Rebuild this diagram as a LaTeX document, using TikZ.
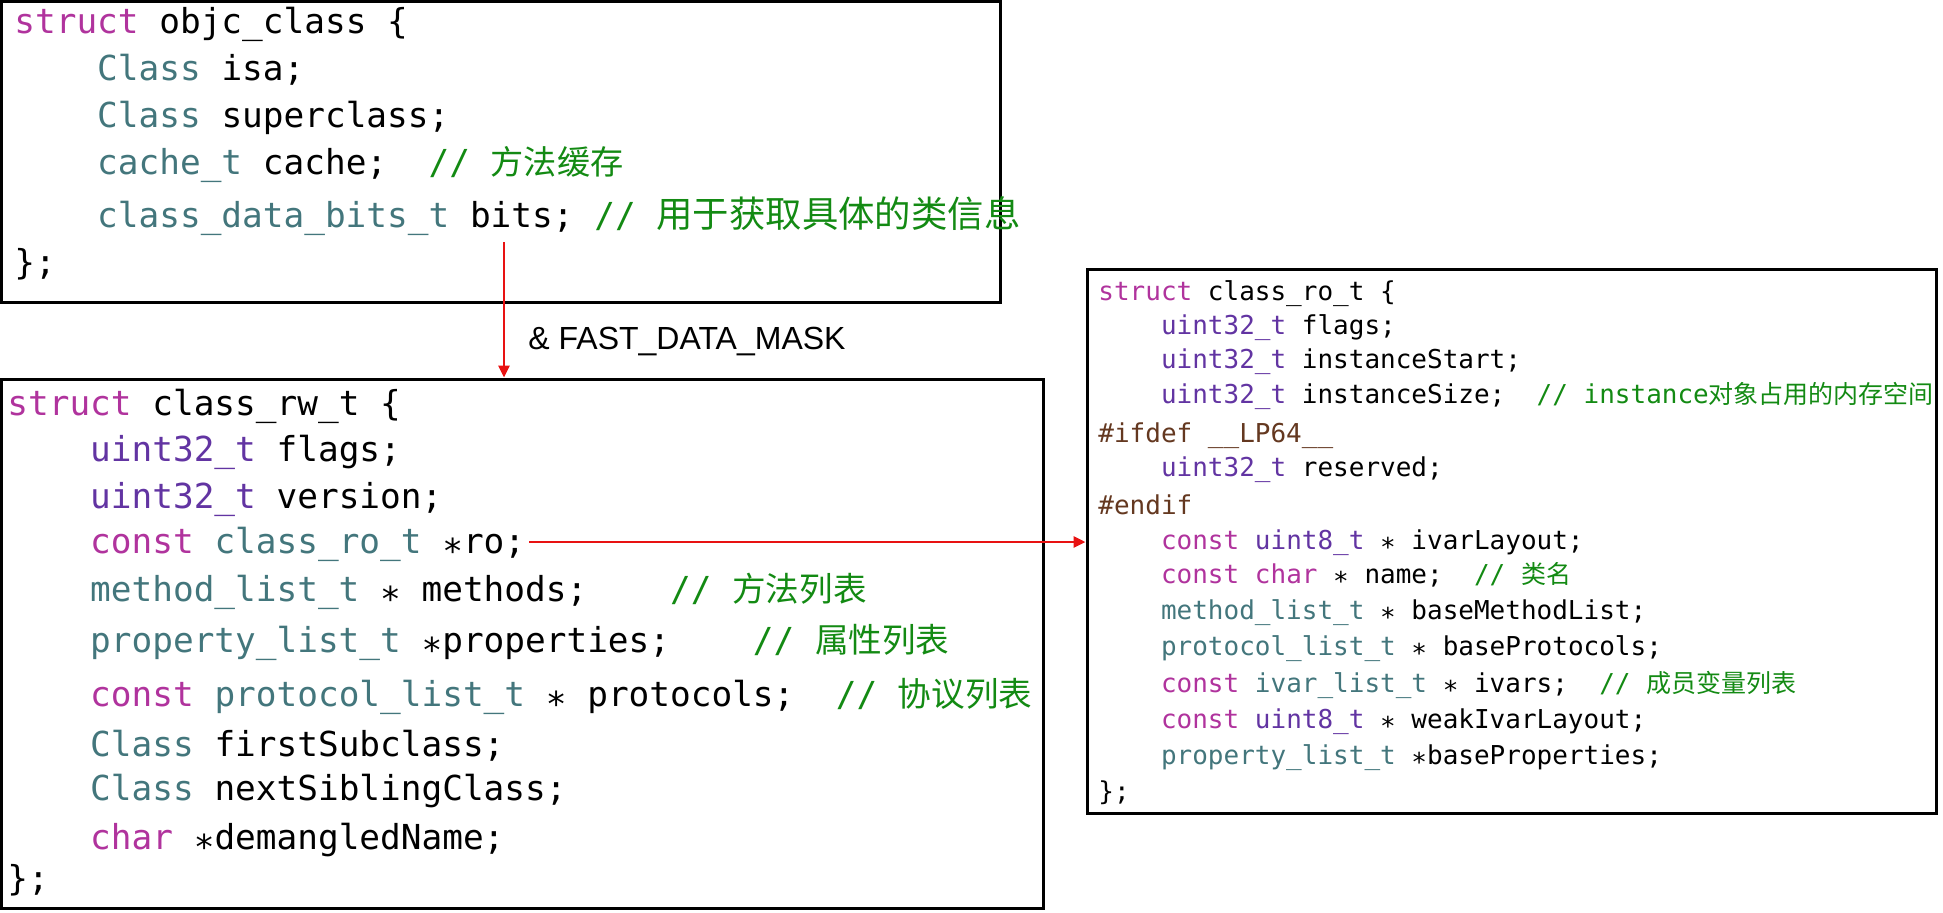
\documentclass[tikz,border=0pt]{standalone}
\usepackage{fontspec}
\usepackage{xcolor}
\usetikzlibrary{arrows.meta}
\newfontfamily\code{DejaVu Sans Mono}
\newfontfamily\cjk{Noto Sans CJK SC}
\newfontfamily\lblfont{Liberation Sans}
\definecolor{kwc}{HTML}{B0339D}
\definecolor{tyc}{HTML}{43767C}
\definecolor{puc}{HTML}{6234A2}
\definecolor{ppc}{HTML}{643820}
\definecolor{cmc}{HTML}{138A13}
\definecolor{arrc}{RGB}{232,18,18}
\newcommand\kw[1]{\textcolor{kwc}{#1}}
\newcommand\ty[1]{\textcolor{tyc}{#1}}
\newcommand\pu[1]{\textcolor{puc}{#1}}
\newcommand\pp[1]{\textcolor{ppc}{#1}}
\newcommand\cm[1]{\textcolor{cmc}{#1}}
\newcommand\ii{\hphantom{xxxx}}
\newcommand\zh[2]{{\cjk\fontsize{#1pt}{#1pt}\selectfont #2}}
\newcommand\st{\raisebox{-0.3em}{*}}
\tikzset{
  box/.style={draw=black, line width=1.5pt, inner sep=0pt, fill=none},
  bigcode/.style={anchor=base west, inner sep=0pt, font=\code\fontsize{17.2pt}{20pt}\selectfont\frenchspacing},
  smallcode/.style={anchor=base west, inner sep=0pt, font=\code\fontsize{13pt}{16pt}\selectfont\frenchspacing},
  arr/.style={draw=arrc, line width=1.4pt, -{Triangle[length=6pt,width=5.5pt]}},
  lbl/.style={anchor=base west, inner sep=0pt, font=\lblfont\fontsize{16pt}{19pt}\selectfont}
}
\begin{document}
\begin{tikzpicture}[x=0.5pt,y=-0.5pt]
\useasboundingbox (0,0) rectangle (1943,912);
% boxes
\node[box, minimum width=499.25pt, minimum height=150.25pt] (objc) at (500.75,151.75) {};
\node[box, minimum width=520.75pt, minimum height=264.5pt] (rw) at (522.25,643.5) {};
\node[box, minimum width=424.5pt, minimum height=272pt] (ro) at (1511.5,541) {};
% objc_class
\node[bigcode] (a1) at (14,33) {\kw{struct} objc\_class \{};
\node[bigcode] (a2) at (14,80) {\ii\ty{Class} isa;};
\node[bigcode] (a3) at (14,127) {\ii\ty{Class} superclass;};
\node[bigcode] (a4) at (14,174) {\ii\ty{cache\_t} cache;\ \ \cm{// \zh{16.6}{方法缓存}}};
\node[bigcode] (a5) at (14,227) {\ii\ty{class\_data\_bits\_t} bits; \cm{// \zh{18.2}{用于获取具体的类信息}}};
\node[bigcode] (a6) at (14,274) {\};};
% class_rw_t
\node[bigcode] (b1) at (7,415) {\kw{struct} class\_rw\_t \{};
\node[bigcode] (b2) at (7,461) {\ii\pu{uint32\_t} flags;};
\node[bigcode] (b3) at (7,508) {\ii\pu{uint32\_t} version;};
\node[bigcode] (b4) at (7,553) {\ii\kw{const} \ty{class\_ro\_t} \st ro;};
\node[bigcode] (b5) at (7,601) {\ii\ty{method\_list\_t} \st{} methods;\ \ \ \ \cm{// \zh{16.8}{方法列表}}};
\node[bigcode] (b6) at (7,652) {\ii\ty{property\_list\_t} \st properties;\ \ \ \ \cm{// \zh{16.8}{属性列表}}};
\node[bigcode] (b7) at (7,706) {\ii\kw{const} \ty{protocol\_list\_t} \st{} protocols;\ \ \cm{// \zh{16.8}{协议列表}}};
\node[bigcode] (b8) at (7,756) {\ii\ty{Class} firstSubclass;};
\node[bigcode] (b9) at (7,800) {\ii\ty{Class} nextSiblingClass;};
\node[bigcode] (b10) at (7,849) {\ii\kw{char} \st demangledName;};
\node[bigcode] (b11) at (7,890) {\};};
% class_ro_t
\node[smallcode] (c1) at (1098,300) {\kw{struct} class\_ro\_t \{};
\node[smallcode] (c2) at (1098,334) {\ii\pu{uint32\_t} flags;};
\node[smallcode] (c3) at (1098,368) {\ii\pu{uint32\_t} instanceStart;};
\node[smallcode] (c4) at (1098,403) {\ii\pu{uint32\_t} instanceSize;\ \ \cm{// instance\zh{12.5}{对象占用的内存空间}}};
\node[smallcode] (c5) at (1098,442) {\pp{\#ifdef \_\_LP64\_\_}};
\node[smallcode] (c6) at (1098,476) {\ii\pu{uint32\_t} reserved;};
\node[smallcode] (c7) at (1098,514) {\pp{\#endif}};
\node[smallcode] (c8) at (1098,549) {\ii\kw{const} \pu{uint8\_t} \st{} ivarLayout;};
\node[smallcode] (c9) at (1098,583) {\ii\kw{const} \kw{char} \st{} name;\ \ \cm{// \zh{12.5}{类名}}};
\node[smallcode] (c10) at (1098,619) {\ii\ty{method\_list\_t} \st{} baseMethodList;};
\node[smallcode] (c11) at (1098,655) {\ii\ty{protocol\_list\_t} \st{} baseProtocols;};
\node[smallcode] (c12) at (1098,692) {\ii\kw{const} \ty{ivar\_list\_t} \st{} ivars;\ \ \cm{// \zh{12.5}{成员变量列表}}};
\node[smallcode] (c13) at (1098,728) {\ii\kw{const} \pu{uint8\_t} \st{} weakIvarLayout;};
\node[smallcode] (c14) at (1098,764) {\ii\ty{property\_list\_t} \st baseProperties;};
\node[smallcode] (c15) at (1098,800) {\};};
% label
\node[lbl] (mask) at (528,349) {\& FAST\_DATA\_MASK};
% connectors
\coordinate (bitsdown) at (504,242);
\coordinate (rostart) at (529,542);
\draw[arr] (bitsdown) -- (bitsdown |- rw.north);
\draw[arr] (rostart) -- (rostart -| ro.west);
\end{tikzpicture}
\end{document}
